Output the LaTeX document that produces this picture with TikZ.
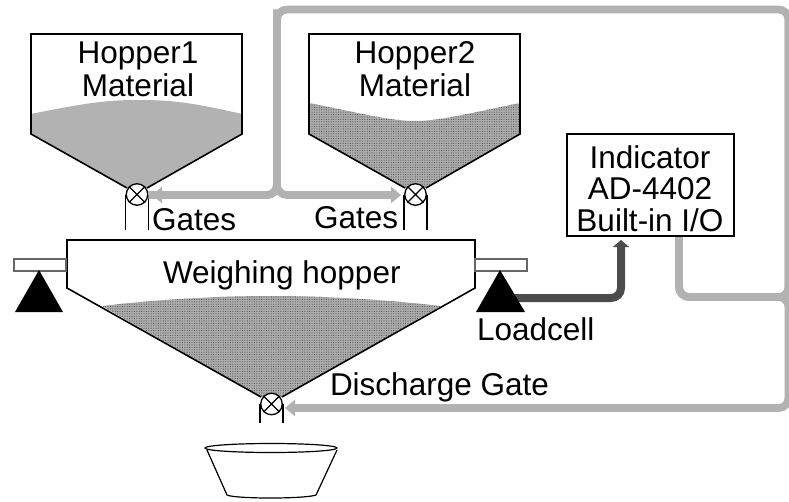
\documentclass[tikz,border=0pt]{standalone}
\usepackage{fontspec}
\setmainfont{Liberation Sans}
\usetikzlibrary{arrows.meta,patterns.meta}
\tikzset{
  hopperline/.style={draw=black,line width=1.6pt,line join=miter},
  lbl/.style={inner sep=0pt,outer sep=0pt,anchor=base,font=\fontsize{31.5}{34}\selectfont},
  lblw/.style={lbl,anchor=base west},
  gatec/.style={circle,draw=black,fill=white,line width=1.3pt,minimum size=21.5pt,inner sep=0pt},
  leg/.style={draw=black,line width=1.5pt},
  lightwire/.style={draw=black!30,line width=7.8pt,rounded corners=10pt},
  darkwire/.style={draw=black!70,line width=8pt,rounded corners=10pt},
  lighttip/.style={-{Triangle[length=10pt,width=16pt]}},
  darktip/.style={-{Triangle[length=7pt,width=16pt]}},
  dotfill/.style={pattern={Dots[radius=0.55pt,distance=2.4pt]},pattern color=black!70},
  beam/.style={draw=black!60,fill=white,line width=1.3pt},
  pivot/.style={fill=black,draw=none},
}
\newcommand{\gatex}[1]{\draw[black,line width=1.2pt] (#1.north west)--(#1.south east) (#1.north east)--(#1.south west);}
\begin{document}
\begin{tikzpicture}[x=1pt,y=-1pt]
\useasboundingbox (0,0) rectangle (789,501);
\fill[white] (0,0) rectangle (789,501);
% material fills
\fill[black!30] (31,114) .. controls (90,102) and (110,100) .. (137,100) .. controls (170,100) and (190,102) .. (242,114) -- (242,134) -- (147,188) -- (127,188) -- (31,134) -- cycle;
\fill[black!32] (309,103) .. controls (360,113) and (390,121) .. (415,121) .. controls (440,121) and (470,113) .. (520,103) -- (520,134) -- (426,188) -- (405,188) -- (309,134) -- cycle;
\path[dotfill] (309,103) .. controls (360,113) and (390,121) .. (415,121) .. controls (440,121) and (470,113) .. (520,103) -- (520,134) -- (426,188) -- (405,188) -- (309,134) -- cycle;
\fill[black!32] (102,306) .. controls (170,298) and (230,296) .. (271,296) .. controls (320,296) and (380,299) .. (441,306) -- (282,397) -- (261,397) -- cycle;
\path[dotfill] (102,306) .. controls (170,298) and (230,296) .. (271,296) .. controls (320,296) and (380,299) .. (441,306) -- (282,397) -- (261,397) -- cycle;
% gates
\node[gatec] (g1) at (137,194.5) {};
\node[gatec] (g2) at (415.5,194.5) {};
\node[gatec] (g3) at (271.5,404) {};
% legs
\draw[leg] (g1.west) -- ++(0,35);
\draw[leg] (g1.east) -- ++(0,35);
\draw[leg] (g2.west) -- ++(0,35);
\draw[leg] (g2.east) -- ++(0,35);
\draw[leg] (g3.west) -- ++(0,19);
\draw[leg] (g3.east) -- ++(0,19);
\gatex{g1}\gatex{g2}\gatex{g3}
% hoppers
\draw[hopperline] (127,188) -- (31,134) -- (31,34) -- (242,34) -- (242,134) -- (147,188);
\draw[hopperline] (405,188) -- (309,134) -- (309,34) -- (520,34) -- (520,134) -- (426,188);
\draw[hopperline] (261,397) -- (67,288) -- (67,240) -- (475,240) -- (475,288) -- (282,397);
% beams and pivots
\node[beam,minimum width=52pt,minimum height=12pt,inner sep=0pt] (bl) at (40,265) {};
\node[beam,minimum width=52pt,minimum height=12pt,inner sep=0pt] (br) at (501,265) {};
\coordinate (lc) at (505,298);
% indicator
\node[draw=black,line width=2pt,minimum width=167pt,minimum height=102pt,inner sep=0pt] (ind) at (650,184.5) {};
% wires
\coordinate (jt) at (277,195);
\coordinate (tc) at (277,9.5);
\coordinate (tr) at (788.5,9.5);
\coordinate (jr) at (788.5,297);
\coordinate (br2) at (788.5,408);
\coordinate (il) at (679,237);
\coordinate (t1) at (152,195);
\coordinate (t2) at (401,195);
\coordinate (t3) at (285,408);
\draw[lightwire] (jr) -- (tr) -- (tc) -- (jt) -- (jt -| g1.east) ;
\draw[lightwire,lighttip] (tc) -- (jt) -- (t1);
\draw[lightwire,lighttip] (tc) -- (jt) -- (t2);
\draw[lightwire] (il) -- (679,297) -- (jr) -- (tr);
\draw[lightwire,lighttip] (il) -- (679,297) -- (jr) -- (br2) -- (t3);
\draw[darkwire,darktip] (lc) -- (621,298) -- (621,240);
\fill[pivot] (39,270) -- (63,312) -- (15,312) -- cycle;
\fill[pivot] (500,270) -- (525,312) -- (476,312) -- cycle;
% labels
\node[lbl] (h1a) at (138,63) {Hopper1};
\node[lbl] (h1b) at (138,96) {Material};
\node[lbl] (h2a) at (415,63) {Hopper2};
\node[lbl] (h2b) at (415,96) {Material};
\node[lblw] (ga) at (152,230) {Gates};
\node[lblw] (gb) at (314,228) {Gates};
\node[lblw] (wh) at (163,283) {Weighing hopper};
\node[lblw] (lo) at (477,340) {Loadcell};
\node[lblw] (dg) at (330,395) {Discharge Gate};
\node[lbl] (i1) at (650,168) {Indicator};
\node[lbl] (i2) at (650,199) {AD-4402};
\node[lbl] (i3) at (650,231) {Built-in I/O};
% bucket
\draw[black,line width=1.2pt,fill=white] (207,450) -- (227,495) .. controls (235,499) and (305,499) .. (316,495) -- (337,450);
\draw[black,line width=1.2pt,fill=white] (271,448) ellipse (66 and 4.5);
\end{tikzpicture}
\end{document}
